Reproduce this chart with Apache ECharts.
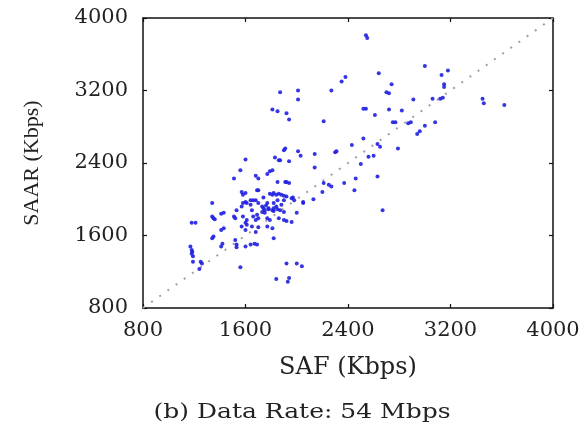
<!DOCTYPE html>
<html>
<head>
<meta charset="utf-8">
<script src="https://cdn.jsdelivr.net/npm/echarts@6/dist/echarts.min.js"></script>
<style>
html,body{margin:0;padding:0;background:#fff;}
#chart{width:584px;height:425px;}
</style>
</head>
<body>
<div id="chart"></div>
<script>
// Axis ticks
var xTicks = [800, 1600, 2400, 3200, 4000];
var yTicks = [800, 1600, 2400, 3200, 4000];
// Reference line y = x
var refLine = [[800, 800], [4000, 4000]];
// SAF throughput (Kbps) per sample
var saf = [
2540,2550,3000,2640,2380,2350,2270,2740,2720,2700,3130,3180,3150,3150,3140,3120,3060,2910,3450,3460,3620,2520,2540,2720,2820,2610,
2210,2770,2750,2870,2890,3000,3080,2960,2940,2520,2430,2630,2650,2790,2300,2310,2560,2600,2500,2460,2630,2210,2250,2270,2370,2450,2670,2200,
1870,2010,2010,1810,1850,1920,1940,1910,1900,
1600,1830,1860,1870,1940,2010,2030,2140,2140,1560,1680,1700,1770,1790,1810,1510,1850,1910,1920,1940,
1570,1600,1580,1690,1700,1790,1820,1860,1900,1920,1970,1810,1840,1880,2050,2130,1960,1980,
1340,1580,1640,1680,1600,1640,1660,1740,1780,1820,1850,1870,1730,1750,1780,1810,1820,1840,1730,1750,1430,1530,1900,2000,2050,1570,1610,
1580,1610,1600,1690,1700,1660,1680,1770,1790,1860,1900,1920,1960,1360,1340,1350,1180,1210,1510,1520,
1570,1600,1610,1650,1700,1680,1770,1810,1820,1430,1410,1350,1340,1420,1410,1520,1530,1530,1600,1640,1670,1690,
1170,1180,1180,1190,1190,1185,1250,1260,1240,1560,1920,2000,2040,1840,1940,1930,1410,1740,1850,1770,1700,1650,1760,1900,1820,1880
];
// SAAR throughput (Kbps) per sample
var saar = [
3810,3780,3470,3390,3350,3300,3200,3270,3170,3180,3370,3420,3270,3240,3120,3110,3110,3100,3110,3060,3040,3000,3000,2990,2980,2930,
2860,2850,2850,2840,2850,2810,2850,2750,2720,2670,2600,2610,2580,2560,2520,2530,2470,2480,2390,2230,2250,2180,2160,2140,2180,2100,1880,2080,
3180,3200,3100,2990,2970,2950,2880,2560,2540,
2440,2460,2430,2430,2420,2530,2480,2500,2350,2320,2260,2230,2280,2310,2320,2230,2190,2190,2190,2180,
2080,2070,2050,2100,2100,2060,2070,2060,2040,2030,2020,2050,2050,2050,1970,2000,2010,1990,
1960,1960,1940,1990,1970,1990,1990,1900,1890,1870,1890,1880,1920,1880,1900,1880,1900,1920,1860,1850,1850,1880,1860,1850,1960,1920,1960,
1810,1770,1740,1830,1790,1810,1770,1790,1770,1790,1770,1760,1750,1780,1810,1790,1740,1740,1810,1790,
1700,1660,1720,1700,1690,1640,1700,1680,1570,1680,1660,1590,1570,1510,1480,1550,1500,1470,1480,1500,1510,1500,
1480,1440,1400,1370,1310,1420,1310,1290,1230,1250,1290,1290,1260,1120,1130,1090,1840,2020,1990,1960,1960,1880,1930,1990,1960,1940
];
var points = saf.map(function (v, i) { return [v, saar[i]]; });

var chart = echarts.init(document.getElementById('chart'), null, {renderer: 'canvas'});
var tickFont = {fontFamily: 'DejaVu Serif', fontSize: 21, color: '#222'};
function plain(v) { return String(v); }
chart.setOption({
  animation: false,
  backgroundColor: '#fff',
  grid: {left: 143, right: 31, top: 18, bottom: 117, show: false},
  xAxis: [{
    type: 'value', min: xTicks[0], max: xTicks[xTicks.length - 1], interval: 800,
    position: 'bottom',
    name: 'SAF (Kbps)', nameLocation: 'middle', nameGap: 48,
    nameTextStyle: {fontFamily: 'DejaVu Serif', fontSize: 24, color: '#222'},
    axisLine: {show: true, onZero: false, lineStyle: {color: '#111', width: 1.5}},
    axisTick: {show: true, inside: true, length: 4, lineStyle: {color: '#111', width: 1.2}},
    axisLabel: Object.assign({margin: 12, showMinLabel: true, showMaxLabel: true, formatter: plain}, tickFont),
    splitLine: {show: false}
  }, {
    type: 'value', min: xTicks[0], max: xTicks[xTicks.length - 1], interval: 800,
    position: 'top',
    axisLine: {show: true, onZero: false, lineStyle: {color: '#111', width: 1.5}},
    axisTick: {show: true, inside: true, length: 4, lineStyle: {color: '#111', width: 1.2}},
    axisLabel: {show: false}, splitLine: {show: false}
  }],
  yAxis: [{
    type: 'value', min: yTicks[0], max: yTicks[yTicks.length - 1], interval: 800,
    position: 'left',
    name: 'SAAR (Kbps)', nameLocation: 'middle', nameGap: 100, nameRotate: 90,
    nameTextStyle: {fontFamily: 'Liberation Serif', fontSize: 22, color: '#222'},
    axisLine: {show: true, onZero: false, lineStyle: {color: '#111', width: 1.5}},
    axisTick: {show: true, inside: true, length: 4, lineStyle: {color: '#111', width: 1.2}},
    axisLabel: Object.assign({margin: 15, showMinLabel: true, showMaxLabel: true, formatter: plain}, tickFont),
    splitLine: {show: false}
  }, {
    type: 'value', min: yTicks[0], max: yTicks[yTicks.length - 1], interval: 800,
    position: 'right',
    axisLine: {show: true, onZero: false, lineStyle: {color: '#111', width: 1.5}},
    axisTick: {show: true, inside: true, length: 4, lineStyle: {color: '#111', width: 1.2}},
    axisLabel: {show: false}, splitLine: {show: false}
  }],
  graphic: [{
    type: 'text', x: 302, y: 413, scaleX: 1.25,
    style: {text: '(b) Data Rate: 54 Mbps', font: '20px "DejaVu Serif"', fill: '#222',
            textAlign: 'center', textVerticalAlign: 'middle'}
  }],
  series: [{
    type: 'line', data: refLine, symbol: 'none', silent: true, z: 1,
    lineStyle: {color: '#a0a0a0', width: 2, type: [2, 8]}
  }, {
    type: 'scatter', data: points, symbol: 'circle', symbolSize: 4, z: 3,
    itemStyle: {color: '#1f1fe0', opacity: 0.9}
  }]
});
</script>
</body>
</html>
